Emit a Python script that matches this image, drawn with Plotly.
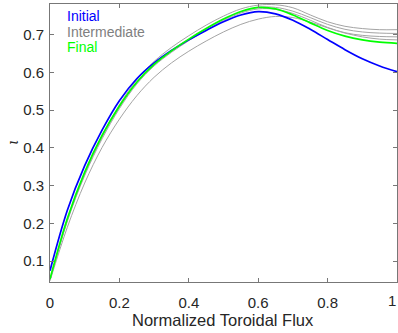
import plotly.graph_objects as go

x = [0, 0.05, 0.1, 0.15, 0.2, 0.25, 0.3, 0.35, 0.4, 0.45, 0.5, 0.55, 0.6, 0.65, 0.7, 0.75, 0.8, 0.85, 0.9, 0.95, 1.0]

initial = [0.075, 0.235, 0.353, 0.447, 0.525, 0.583, 0.625, 0.658, 0.686, 0.711, 0.734, 0.752, 0.761, 0.755, 0.738, 0.714, 0.687, 0.66, 0.636, 0.617, 0.602]
final = [0.053, 0.213, 0.336, 0.433, 0.511, 0.574, 0.621, 0.657, 0.688, 0.716, 0.741, 0.761, 0.772, 0.768, 0.752, 0.731, 0.711, 0.696, 0.686, 0.68, 0.677]

intermediate_1 = [0.05, 0.21, 0.333, 0.432, 0.514, 0.58, 0.629, 0.666, 0.697, 0.725, 0.749, 0.768, 0.778, 0.779, 0.771, 0.752, 0.734, 0.722, 0.716, 0.713, 0.713]
intermediate_2 = [0.05, 0.208, 0.33, 0.428, 0.508, 0.573, 0.62, 0.656, 0.687, 0.715, 0.74, 0.76, 0.772, 0.772, 0.762, 0.745, 0.727, 0.714, 0.707, 0.704, 0.703]
intermediate_3 = [0.05, 0.206, 0.327, 0.424, 0.504, 0.569, 0.617, 0.653, 0.684, 0.712, 0.737, 0.757, 0.768, 0.767, 0.756, 0.738, 0.719, 0.705, 0.698, 0.695, 0.694]
intermediate_4 = [0.048, 0.19, 0.307, 0.401, 0.476, 0.538, 0.587, 0.625, 0.656, 0.683, 0.707, 0.727, 0.741, 0.748, 0.745, 0.733, 0.718, 0.704, 0.694, 0.688, 0.686]

x_ticks = [0, 0.2, 0.4, 0.6, 0.8, 1]
x_tick_labels = ["0", "0.2", "0.4", "0.6", "0.8", "1"]
y_ticks = [0.1, 0.2, 0.3, 0.4, 0.5, 0.6, 0.7]
y_tick_labels = ["0.1", "0.2", "0.3", "0.4", "0.5", "0.6", "0.7"]

legend_labels = ["Initial", "Intermediate", "Final"]
x_title = "Normalized Toroidal Flux"
y_title = "ι"

W, H = 398, 333
ml, mr, mt, mb = 50, 0.5, 4, 51
pw, ph = W - ml - mr, H - mt - mb


def px2paper(px, py):
    return (px - ml) / pw, 1 - (py - mt) / ph


font_family = "Liberation Sans, Arial, sans-serif"

fig = go.Figure()
for series in [intermediate_1, intermediate_2, intermediate_3, intermediate_4]:
    fig.add_trace(go.Scatter(x=x, y=series, mode="lines",
                             line=dict(color="#a4a4a4", width=1, shape="spline", smoothing=1.0),
                             showlegend=False, hoverinfo="skip"))
fig.add_trace(go.Scatter(x=x, y=initial, mode="lines",
                         line=dict(color="#0000ff", width=1.7, shape="spline", smoothing=1.0), showlegend=False))
fig.add_trace(go.Scatter(x=x, y=final, mode="lines",
                         line=dict(color="#00ff00", width=1.7, shape="spline", smoothing=1.0), showlegend=False))

legend_colors = ["#0000ff", "#808080", "#00ff00"]
legend_y = [16.5, 31.5, 47]
for txt, col, ly in zip(legend_labels, legend_colors, legend_y):
    ax, ay = px2paper(66, ly)
    fig.add_annotation(x=ax, y=ay, xref="paper", yref="paper", text=txt, showarrow=False,
                       font=dict(family=font_family, size=14, color=col), xanchor="left", yanchor="middle",
                       borderpad=0)

tx, ty = px2paper(223.5, 320)
fig.add_annotation(x=tx, y=ty, xref="paper", yref="paper", text=x_title, showarrow=False,
                   font=dict(family=font_family, size=16.5, color="#262626"), xanchor="center", yanchor="middle",
                   borderpad=0)

yx, yy = px2paper(13, 142)
fig.add_annotation(x=yx, y=yy, xref="paper", yref="paper", text="<i>" + y_title + "</i>", showarrow=False,
                   textangle=-90,
                   font=dict(family="DejaVu Serif, serif", size=14, color="#262626"), xanchor="center", yanchor="middle")

# last x tick label sits at the right edge of the page; keep it fully inside
lx, ly_ = px2paper(397.5, 300)
fig.add_annotation(x=lx, y=ly_, xref="paper", yref="paper", text=x_tick_labels[-1], showarrow=False,
                   font=dict(family=font_family, size=15, color="#262626"), xanchor="right", yanchor="middle",
                   borderpad=0)
shown_x_labels = x_tick_labels[:-1] + [""]

axis_common = dict(showline=True, linecolor="#777777", linewidth=1, mirror="ticks", ticks="inside",
                   ticklen=4, tickcolor="#777777", showgrid=False, zeroline=False, ticklabeloverflow="allow",
                   automargin=False, tickfont=dict(family=font_family, size=15, color="#262626"))

fig.update_layout(
    width=W, height=H, margin=dict(l=ml, r=mr, t=mt, b=mb, autoexpand=False),
    plot_bgcolor="white", paper_bgcolor="white",
    xaxis=dict(range=[0, 1], tickvals=x_ticks, ticktext=shown_x_labels, ticklabelstandoff=7, **axis_common),
    yaxis=dict(range=[0.045, 0.781], tickvals=y_ticks, ticktext=y_tick_labels, ticklabelstandoff=2, **axis_common),
)

fig.write_html("out.html")
